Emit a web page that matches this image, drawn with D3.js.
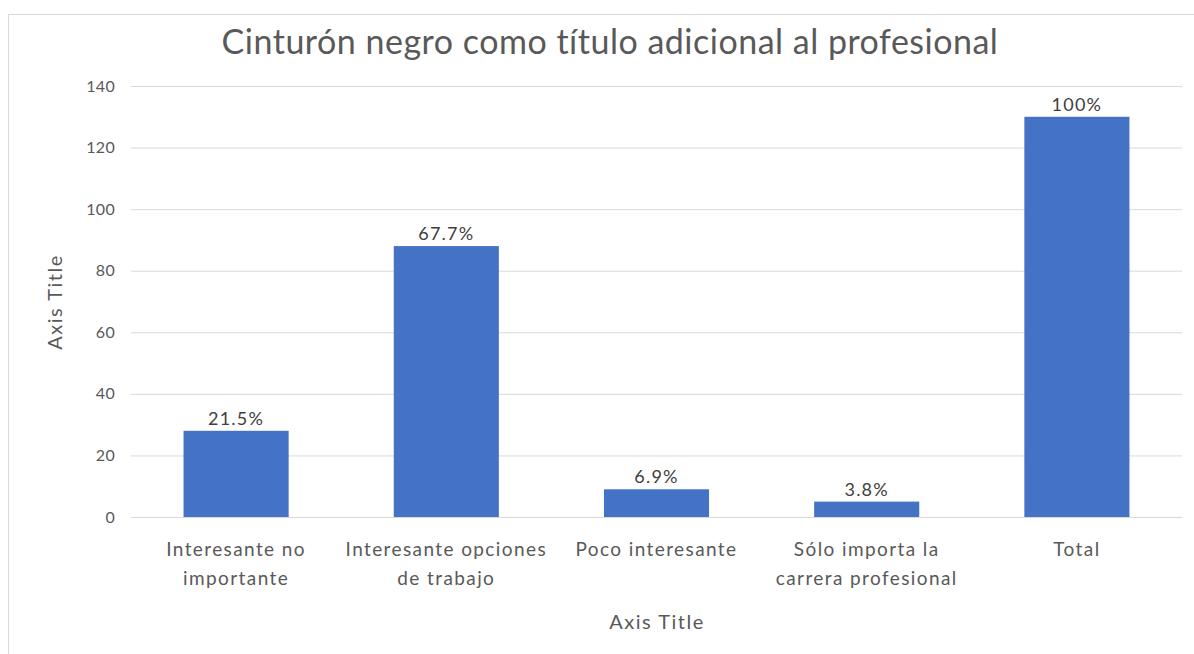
<!DOCTYPE html>
<html>
<head>
<meta charset="utf-8">
<script src="https://cdn.jsdelivr.net/npm/d3@7"></script>
<style>
  body { margin: 0; background: #fff; }
  svg text { font-family: Lato, "Open Sans", sans-serif; fill: #595959; }
</style>
</head>
<body>
<script>
var categories = ["Interesante no importante", "Interesante opciones de trabajo", "Poco interesante", "Sólo importa la carrera profesional", "Total"];
var values = [28, 88, 9, 5, 130];
var labels = ["21.5%", "67.7%", "6.9%", "3.8%", "100%"];
var yTicks = [0, 20, 40, 60, 80, 100, 120, 140];

var W = 1194, H = 654;
var margin = {top: 86, right: 12, bottom: 137, left: 131},
    width = W - margin.left - margin.right,
    height = H - margin.top - margin.bottom;

var svg = d3.select("body").append("svg")
    .attr("width", W)
    .attr("height", H);

// chart frame
svg.append("rect")
    .attr("x", 8.5).attr("y", 14.5)
    .attr("width", 1300).attr("height", 800)
    .attr("fill", "none").attr("stroke", "#d9d9d9");

var g = svg.append("g")
    .attr("transform", "translate(" + margin.left + "," + margin.top + ")");

var x = d3.scaleBand().domain(categories).range([0, width])
    .paddingInner(0.5).paddingOuter(0.25);
var y = d3.scaleLinear().domain([0, 140]).range([height, 0]);

// gridlines
g.append("g")
    .attr("class", "grid")
    .call(d3.axisLeft(y).tickValues(yTicks).tickSize(-width).tickFormat(""))
    .call(function(s) {
      s.select(".domain").remove();
      s.selectAll("line").attr("stroke", "#d9d9d9").attr("stroke-width", 1);
    });

// y axis labels
g.append("g")
    .call(d3.axisLeft(y).tickValues(yTicks).tickSize(0).tickPadding(16))
    .call(function(s) {
      s.select(".domain").remove();
      s.selectAll("text").style("font-size", "16px").style("letter-spacing", "0.3px");
    });

// bars
g.selectAll(".bar")
    .data(values)
    .enter().append("rect")
      .attr("class", "bar")
      .attr("x", function(d, i) { return x(categories[i]); })
      .attr("y", function(d) { return y(d); })
      .attr("width", x.bandwidth())
      .attr("height", function(d) { return y(0) - y(d); })
      .attr("fill", "#4472c4");

// data labels
g.selectAll(".lbl")
    .data(values)
    .enter().append("text")
      .attr("class", "lbl")
      .attr("x", function(d, i) { return x(categories[i]) + x.bandwidth() / 2; })
      .attr("y", function(d) { return y(d) - 6; })
      .attr("text-anchor", "middle")
      .style("font-size", "18px")
      .style("letter-spacing", "1.2px")
      .style("fill", "#404040")
      .text(function(d, i) { return labels[i]; });

// x axis labels
var xAxis = g.append("g")
    .attr("transform", "translate(0," + height + ")")
    .call(d3.axisBottom(x).tickSize(0).tickPadding(0));
xAxis.select(".domain").remove();
xAxis.selectAll("text")
    .style("font-size", "19px")
    .style("letter-spacing", "1.4px")
    .attr("y", 39)
    .attr("dy", 0)
    .call(wrap, x.step() + 4);

function wrap(text, maxW) {
  text.each(function() {
    var t = d3.select(this),
        words = t.text().split(/\s+/),
        line = [],
        lineNo = 0,
        yy = t.attr("y"),
        tspan = t.text(null).append("tspan").attr("x", 0).attr("y", yy);
    words.forEach(function(w) {
      line.push(w);
      tspan.text(line.join(" "));
      if (tspan.node().getComputedTextLength() > maxW && line.length > 1) {
        line.pop();
        tspan.text(line.join(" "));
        line = [w];
        lineNo++;
        tspan = t.append("tspan").attr("x", 0).attr("y", +yy + lineNo * 29).text(w);
      }
    });
  });
}

// title
svg.append("text")
    .attr("x", 610).attr("y", 54)
    .attr("text-anchor", "middle")
    .style("font-size", "34px")
    .style("letter-spacing", "0.5px")
    .text("Cinturón negro como título adicional al profesional");

// axis titles
svg.append("text")
    .attr("x", 657).attr("y", 629)
    .attr("text-anchor", "middle")
    .style("font-size", "20px")
    .style("letter-spacing", "1.5px")
    .text("Axis Title");

svg.append("text")
    .attr("transform", "translate(62,302) rotate(-90)")
    .attr("text-anchor", "middle")
    .style("font-size", "20px")
    .style("letter-spacing", "1.5px")
    .text("Axis Title");
</script>
</body>
</html>
